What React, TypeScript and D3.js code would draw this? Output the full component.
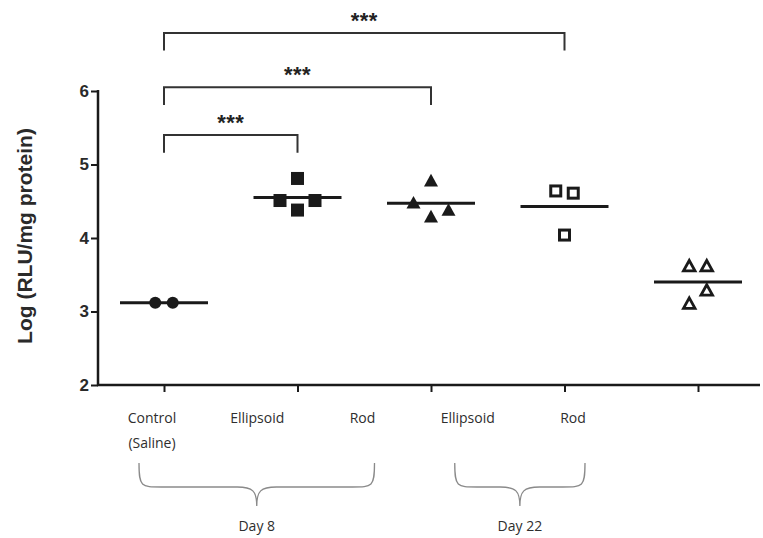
import React, { useEffect, useRef } from 'react'
import * as d3 from 'd3'

// groups, left to right
const groups = ['ctrl', 'ell8', 'rod8', 'ell22', 'rod22']
const tickLabels = [['Control', '(Saline)'], ['Ellipsoid'], ['Rod'], ['Ellipsoid'], ['Rod']]
const shapes = ['circle', 'square', 'triangle', 'openSquare', 'openTriangle']

// log(RLU/mg protein) per animal
const ctrlValues = [3.12, 3.12]
const ell8Values = [4.51, 4.81, 4.38, 4.51]
const rod8Values = [4.47, 4.77, 4.28, 4.37]
const ell22Values = [4.64, 4.04, 4.61]
const rod22Values = [3.61, 3.61, 3.28, 3.1]
const allValues = [ctrlValues, ell8Values, rod8Values, ell22Values, rod22Values]

// side-by-side slots used by the scatter (GraphPad style)
const slots = [
  [-0.5, 0.5],
  [-1, 0, 0, 1],
  [-1, 0, 0, 1],
  [-0.5, 0, 0.5],
  [-0.5, 0.5, 0.5, -0.5],
]

const yTicks = [2, 3, 4, 5, 6]

// significance brackets: [from, to, height in y units]
const comparisons = [
  ['ctrl', 'ell8', 5.4],
  ['ctrl', 'rod8', 6.05],
  ['ctrl', 'ell22', 6.79],
]
const compLabels = ['***', '***', '***']

const braces = [
  { label: 'Day 8', from: 'ctrl', to: 'rod8' },
  { label: 'Day 22', from: 'ell22', to: 'rod22' },
]

const App = () => {
  const ref = useRef(null)

  useEffect(() => {
    const svg = d3.select(ref.current)
    svg.selectAll('*').remove()

    const y = d3.scaleLinear().domain([2, 6]).range([385, 91])
    const x = d3.scalePoint().domain(groups).range([164, 698])
    // text labels under the axis sit a bit left of the ticks
    const xLab = d3.scalePoint().domain(groups).range([152, 573])
    const axisLeft = 98
    const axisRight = 760
    const ink = '#1a1a1a'
    const arial = 'Liberation Sans, Arial, sans-serif'

    // y axis
    const ya = svg
      .append('g')
      .attr('transform', `translate(${axisLeft},0)`)
      .call(d3.axisLeft(y).tickValues(yTicks).tickFormat(d3.format('d')).tickSize(7).tickPadding(2))
    ya.select('.domain').remove()
    ya.selectAll('line').attr('stroke', ink).attr('stroke-width', 2)
    ya.selectAll('text')
      .attr('fill', '#2a2a2a')
      .style('font-family', arial)
      .style('font-size', '17px')
      .style('font-weight', 'bold')
    svg
      .append('line')
      .attr('x1', axisLeft)
      .attr('x2', axisLeft)
      .attr('y1', y(6) - 1)
      .attr('y2', y(2))
      .attr('stroke', ink)
      .attr('stroke-width', 2.5)

    // x axis
    const xa = svg
      .append('g')
      .attr('transform', `translate(0,${y(2)})`)
      .call(d3.axisBottom(x).tickFormat(() => '').tickSize(7))
    xa.select('.domain').remove()
    xa.selectAll('line').attr('stroke', ink).attr('stroke-width', 2)
    svg
      .append('line')
      .attr('x1', axisLeft - 1)
      .attr('x2', axisRight)
      .attr('y1', y(2))
      .attr('y2', y(2))
      .attr('stroke', ink)
      .attr('stroke-width', 2.5)

    // category labels
    const labelFont = 'Open Sans, Carlito, Calibri, sans-serif'
    groups.forEach((g, i) => {
      tickLabels[i].forEach((t, j) => {
        svg
          .append('text')
          .attr('x', xLab(g))
          .attr('y', 423 + j * 25)
          .attr('text-anchor', 'middle')
          .attr('fill', '#2e2e2e')
          .style('font-family', labelFont)
          .style('font-size', '14px')
          .text(t)
      })
    })

    // y title
    svg
      .append('text')
      .attr('transform', `translate(32,${(y(2) + y(6)) / 2 - 2}) rotate(-90)`)
      .attr('text-anchor', 'middle')
      .attr('fill', '#2a2a2a')
      .style('font-family', arial)
      .style('font-size', '21px')
      .style('font-weight', 'bold')
      .text('Log (RLU/mg protein)')

    // mean lines
    const halfLine = 44
    groups.forEach((g, i) => {
      const m = d3.mean(allValues[i])
      svg
        .append('line')
        .attr('x1', x(g) - halfLine)
        .attr('x2', x(g) + halfLine)
        .attr('y1', y(m))
        .attr('y2', y(m))
        .attr('stroke', ink)
        .attr('stroke-width', 3)
    })

    // points
    const slotW = 17.5
    const tri = (s) => {
      const h = s * 0.9
      return `M0,${-h * 0.6}L${s / 2},${h * 0.4}L${-s / 2},${h * 0.4}Z`
    }
    groups.forEach((g, i) => {
      const shape = shapes[i]
      allValues[i].forEach((v, j) => {
        const cx = x(g) + slots[i][j] * slotW
        const cy = y(v)
        const gg = svg.append('g').attr('transform', `translate(${cx},${cy})`)
        if (shape === 'circle') {
          gg.append('circle').attr('r', 6).attr('fill', ink)
        } else if (shape === 'square') {
          gg.append('rect').attr('x', -6.5).attr('y', -6.5).attr('width', 13).attr('height', 13).attr('fill', ink)
        } else if (shape === 'triangle') {
          gg.append('path').attr('d', tri(14)).attr('fill', ink)
        } else if (shape === 'openSquare') {
          gg.append('rect')
            .attr('x', -5)
            .attr('y', -5)
            .attr('width', 10)
            .attr('height', 10)
            .attr('fill', 'white')
            .attr('stroke', ink)
            .attr('stroke-width', 3)
        } else {
          gg.append('path')
            .attr('d', tri(11.5))
            .attr('fill', 'white')
            .attr('stroke', ink)
            .attr('stroke-width', 2.8)
            .attr('stroke-linejoin', 'miter')
        }
      })
    })

    // significance brackets
    const drop = 0.24
    comparisons.forEach(([a, b, h], i) => {
      const x1 = x(a)
      const x2 = x(b)
      svg
        .append('path')
        .attr('d', `M${x1},${y(h - drop)}V${y(h)}H${x2}V${y(h - drop)}`)
        .attr('fill', 'none')
        .attr('stroke', '#333')
        .attr('stroke-width', 2)
      svg
        .append('text')
        .attr('x', (x1 + x2) / 2)
        .attr('y', y(h) - 5)
        .attr('text-anchor', 'middle')
        .attr('fill', '#222')
        .style('font-family', arial)
        .style('font-size', '22px')
        .style('font-weight', 'bold')
        .style('letter-spacing', '0.5px')
        .text(compLabels[i])
    })

    // curly braces for the days
    const braceTop = 463
    const braceMid = 487
    const braceTip = 506
    braces.forEach((br) => {
      const x0 = xLab(br.from) - 13
      const x1 = xLab(br.to) + 12
      const xm = (x0 + x1) / 2
      const r = 14
      const path = d3.path()
      path.moveTo(x0, braceTop)
      path.bezierCurveTo(x0, braceMid, x0 + 2, braceMid, x0 + r * 1.6, braceMid)
      path.lineTo(xm - r * 1.4, braceMid)
      path.bezierCurveTo(xm - 4, braceMid, xm, braceMid + 4, xm, braceTip)
      path.moveTo(x1, braceTop)
      path.bezierCurveTo(x1, braceMid, x1 - 2, braceMid, x1 - r * 1.6, braceMid)
      path.lineTo(xm + r * 1.4, braceMid)
      path.bezierCurveTo(xm + 4, braceMid, xm, braceMid + 4, xm, braceTip)
      svg
        .append('path')
        .attr('d', path.toString())
        .attr('fill', 'none')
        .attr('stroke', '#8a8a8a')
        .attr('stroke-width', 1.3)
      svg
        .append('text')
        .attr('x', xm)
        .attr('y', 531)
        .attr('text-anchor', 'middle')
        .attr('fill', '#2e2e2e')
        .style('font-family', labelFont)
        .style('font-size', '14px')
        .text(br.label)
    })
  }, [])

  return (
    <svg
      ref={ref}
      width={763}
      height={538}
      style={{ position: 'absolute', left: 0, top: 0, background: 'white' }}
    />
  )
}

export default App
